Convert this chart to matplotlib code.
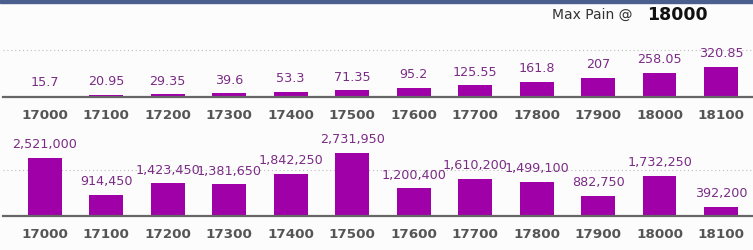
import matplotlib.pyplot as plt
from matplotlib.patches import Rectangle

strikes = ['17000', '17100', '17200', '17300', '17400', '17500',
           '17600', '17700', '17800', '17900', '18000', '18100']
premium = [15.7, 20.95, 29.35, 39.6, 53.3, 71.35,
           95.2, 125.55, 161.8, 207, 258.05, 320.85]
premium_labels = ['15.7', '20.95', '29.35', '39.6', '53.3', '71.35',
                  '95.2', '125.55', '161.8', '207', '258.05', '320.85']
pain = [2521000, 914450, 1423450, 1381650, 1842250, 2731950,
        1200400, 1610200, 1499100, 882750, 1732250, 392200]
max_pain = '18000'

W, H = 753, 250
bg = '#fcfcfd'
bar_color = '#a000a8'
label_color = '#7a2c84'

fig = plt.figure(figsize=(W / 100, H / 100), dpi=100, facecolor=bg)

def px_axes(x0, y0, x1, y1):
    # pixel box (top-left origin) -> figure coords
    return fig.add_axes([x0 / W, 1 - y1 / H, (x1 - x0) / W, (y1 - y0) / H])

def draw(ax, vals, labels, ymax, grid_y):
    x = range(len(vals))
    ax.set_facecolor(bg)
    ax.bar(x, vals, width=0.55, color=bar_color, zorder=3)
    for i, (v, s) in enumerate(zip(vals, labels)):
        ax.annotate(s, (i, v), xytext=(0, 9.5), textcoords='offset points',
                    ha='center', va='center', fontsize=9.2, color=label_color)
    ax.axhline(grid_y, color='#bdbdbd', lw=0.8, ls=(0, (1, 2.5)), zorder=1)
    ax.set_xlim(-0.68, 11.52)
    ax.set_ylim(0, ymax)
    ax.set_yticks([])
    ax.set_xticks(list(x))
    ax.set_xticklabels(strikes, fontsize=9.7, fontweight='bold', color='#555555')
    ax.tick_params(axis='x', length=0, pad=8.5)
    for side in ['top', 'right', 'left']:
        ax.spines[side].set_visible(False)
    ax.spines['bottom'].set_color('#666666')
    ax.spines['bottom'].set_linewidth(1.6)
    ax.spines['bottom'].set_zorder(4)

ax1 = px_axes(3, 20, 753, 97)
draw(ax1, premium, premium_labels, 820, 500)

ax2 = px_axes(3, 130, 753, 216)
draw(ax2, pain, [f'{v:,}' for v in pain], 3740000, 2000000)

fig.patches.append(Rectangle((0, 1 - 3 / H), 1, 3 / H, transform=fig.transFigure,
                             color='#4a5f8e', zorder=10))
fig.text(632 / W, 1 - 15 / H, 'Max Pain @', ha='right', va='center',
         fontsize=10, color='#333333')
fig.text(647 / W, 1 - 15 / H, max_pain, ha='left', va='center',
         fontsize=12.5, fontweight='bold', color='#111111')

fig.savefig('out.png', dpi=100, facecolor=bg)
